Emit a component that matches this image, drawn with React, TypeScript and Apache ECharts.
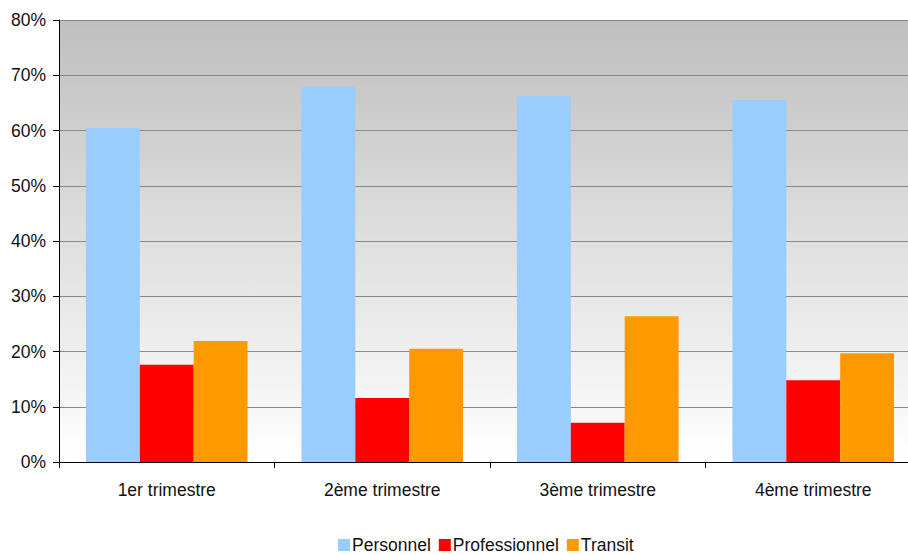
import React, { useEffect, useRef } from "react";
import * as echarts from "echarts";

const categories = ["1er trimestre", "2ème trimestre", "3ème trimestre", "4ème trimestre"];
const personnel = [60.5, 67.9, 66.2, 65.5];
const professionnel = [17.6, 11.6, 7.1, 14.8];
const transit = [21.9, 20.5, 26.4, 19.7];
const seriesNames = ["Personnel", "Professionnel", "Transit"];
const colors = ["#99ccff", "#ff0000", "#ff9900"];

export default function App() {
  const ref = useRef<HTMLDivElement>(null);
  useEffect(() => {
    const chart = echarts.init(ref.current!, null, { renderer: "svg" });
    const font = "'Liberation Sans', Arial, sans-serif";
    const data = [personnel, professionnel, transit];
    chart.setOption({
      animation: false,
      textStyle: { fontFamily: font },
      grid: {
        left: 59,
        top: 20,
        right: 0,
        bottom: 93,
        show: true,
        borderWidth: 0,
        backgroundColor: new echarts.graphic.LinearGradient(0, 0, 0, 1, [
          { offset: 0, color: "#bfbfbf" },
          { offset: 1, color: "#ffffff" },
        ]),
      },
      legend: {
        top: 536,
        left: 338,
        padding: 0,
        itemWidth: 12,
        itemHeight: 12,
        itemGap: 8,
        icon: "rect",
        textStyle: { fontFamily: font, fontSize: 17.5, lineHeight: 18, color: "#111", padding: [0, 0, 0, -3] },
        data: seriesNames,
      },
      xAxis: {
        type: "category",
        data: categories,
        axisLine: { lineStyle: { color: "#000", width: 1 } },
        axisTick: { show: true, length: 6, lineStyle: { color: "#000" } },
        axisLabel: { fontFamily: font, fontSize: 17.5, color: "#111", margin: 19 },
      },
      yAxis: {
        type: "value",
        min: 0,
        max: 80,
        interval: 10,
        axisLine: { show: true, lineStyle: { color: "#000", width: 1 } },
        axisTick: { show: true, length: 6, lineStyle: { color: "#000" } },
        axisLabel: { fontFamily: font, fontSize: 17.5, color: "#111", margin: 13, formatter: "{value}%" },
        splitLine: { show: true, lineStyle: { color: "#888888", width: 1 } },
      },
      series: seriesNames.map((name, i) => ({
        name,
        type: "bar",
        data: data[i],
        barGap: "0%",
        barCategoryGap: "25%",
        itemStyle: { color: colors[i] },
      })),
    });
    return () => chart.dispose();
  }, []);
  return (
    <div style={{ width: 908, height: 555, position: "absolute", left: 0, top: 0, overflow: "hidden" }}>
      <div ref={ref} style={{ width: 921, height: 555 }} />
    </div>
  );
}
